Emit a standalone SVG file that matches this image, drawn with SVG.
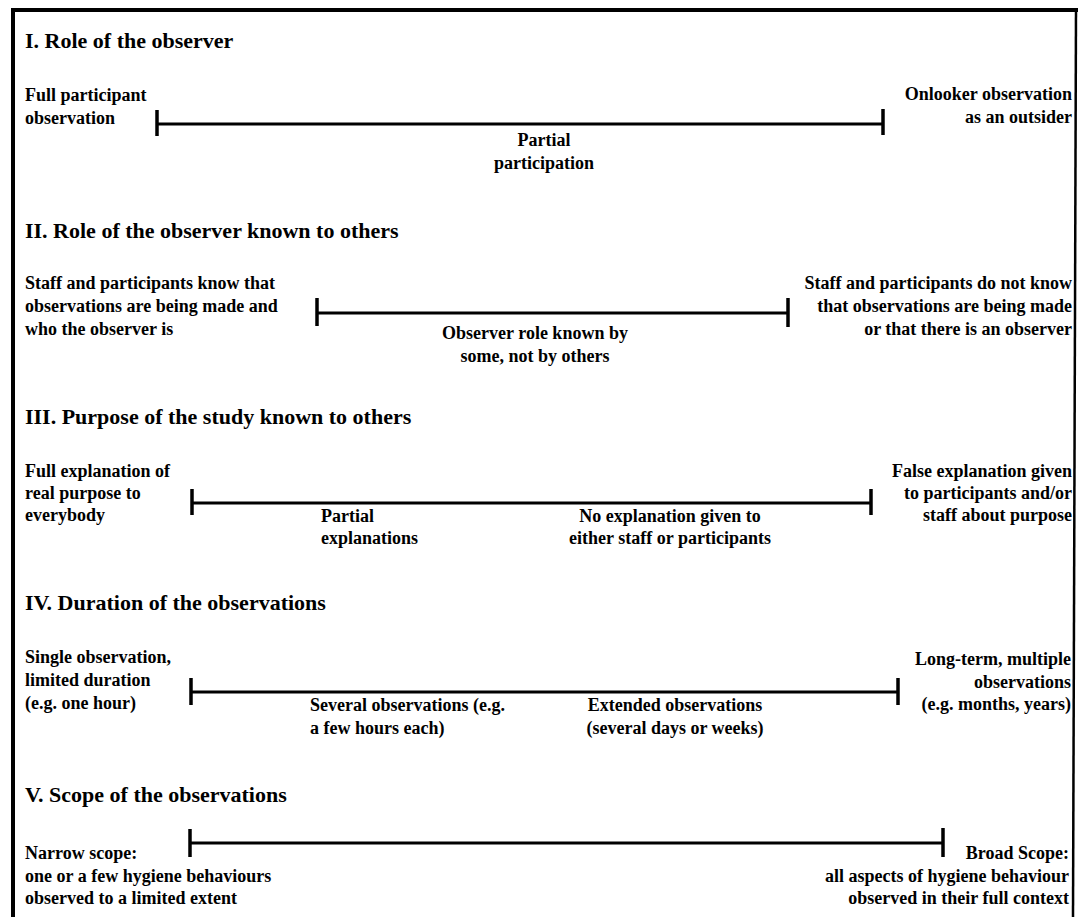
<svg xmlns="http://www.w3.org/2000/svg" width="1078" height="917" viewBox="0 0 1078 917">
  <style>
    text { font-family: "Liberation Serif", "Times New Roman", serif; font-weight: bold; fill: #000; }
    .h { font-size: 22px; }
    .t { font-size: 18px; }
    .r { text-anchor: end; }
    .m { text-anchor: middle; }
    .bar { stroke: #000; stroke-width: 3; fill: none; }
    .tick { stroke: #000; stroke-width: 3.5; fill: none; }
    .frame { stroke: #000; fill: none; }
  </style>

  <rect width="1078" height="917" fill="#fff"/>

  <!-- outer frame -->
  <g id="frame">
    <line class="frame" x1="11" y1="10" x2="1078" y2="10" stroke-width="4"/>
    <line class="frame" x1="13" y1="8" x2="13" y2="917" stroke-width="4"/>
    <line class="frame" x1="1076" y1="8" x2="1073" y2="917" stroke-width="2.5"/>
  </g>

  <!-- scales: bar with end ticks -->
  <g id="connectors">
    <g id="scale-1">
      <line class="bar" x1="157" y1="124" x2="883" y2="124"/>
      <line class="tick" x1="157" y1="110" x2="157" y2="136"/>
      <line class="tick" x1="883" y1="109" x2="883" y2="135"/>
    </g>
    <g id="scale-2">
      <line class="bar" x1="317" y1="313" x2="788" y2="313"/>
      <line class="tick" x1="317" y1="298" x2="317" y2="326"/>
      <line class="tick" x1="788" y1="298" x2="788" y2="327"/>
    </g>
    <g id="scale-3">
      <line class="bar" x1="192" y1="503" x2="871" y2="503"/>
      <line class="tick" x1="192" y1="489" x2="192" y2="515"/>
      <line class="tick" x1="871" y1="489" x2="871" y2="515"/>
    </g>
    <g id="scale-4">
      <line class="bar" x1="191" y1="692" x2="898" y2="692"/>
      <line class="tick" x1="191" y1="678" x2="191" y2="705"/>
      <line class="tick" x1="898" y1="678" x2="898" y2="705"/>
    </g>
    <g id="scale-5">
      <line class="bar" x1="190" y1="843" x2="943" y2="843"/>
      <line class="tick" x1="190" y1="829" x2="190" y2="857"/>
      <line class="tick" x1="943" y1="828" x2="943" y2="857"/>
    </g>
  </g>

  <!-- I. Role of the observer -->
  <g id="section-1">
    <text class="h" x="25" y="48">I. Role of the observer</text>
    <g id="s1-left">
      <text class="t" x="25" y="101">Full participant</text>
      <text class="t" x="25" y="124">observation</text>
    </g>
    <g id="s1-mid">
      <text class="t m" x="544" y="146">Partial</text>
      <text class="t m" x="544" y="169">participation</text>
    </g>
    <g id="s1-right">
      <text class="t r" x="1072" y="100">Onlooker observation</text>
      <text class="t r" x="1072" y="123">as an outsider</text>
    </g>
  </g>

  <!-- II. Role of the observer known to others -->
  <g id="section-2">
    <text class="h" x="25" y="238">II. Role of the observer known to others</text>
    <g id="s2-left">
      <text class="t" x="25" y="289">Staff and participants know that</text>
      <text class="t" x="25" y="312">observations are being made and</text>
      <text class="t" x="25" y="335">who the observer is</text>
    </g>
    <g id="s2-mid">
      <text class="t m" x="535" y="339">Observer role known by</text>
      <text class="t m" x="535" y="362">some, not by others</text>
    </g>
    <g id="s2-right">
      <text class="t r" x="1072" y="289">Staff and participants do not know</text>
      <text class="t r" x="1072" y="312">that observations are being made</text>
      <text class="t r" x="1072" y="335">or that there is an observer</text>
    </g>
  </g>

  <!-- III. Purpose of the study known to others -->
  <g id="section-3">
    <text class="h" x="25" y="424">III. Purpose of the study known to others</text>
    <g id="s3-left">
      <text class="t" x="25" y="477">Full explanation of</text>
      <text class="t" x="25" y="499">real purpose to</text>
      <text class="t" x="25" y="521">everybody</text>
    </g>
    <g id="s3-mid-a">
      <text class="t" x="321" y="522">Partial</text>
      <text class="t" x="321" y="544">explanations</text>
    </g>
    <g id="s3-mid-b">
      <text class="t m" x="670" y="522">No explanation given to</text>
      <text class="t m" x="670" y="544">either staff or participants</text>
    </g>
    <g id="s3-right">
      <text class="t r" x="1072" y="477">False explanation given</text>
      <text class="t r" x="1072" y="499">to participants and/or</text>
      <text class="t r" x="1072" y="521">staff about purpose</text>
    </g>
  </g>

  <!-- IV. Duration of the observations -->
  <g id="section-4">
    <text class="h" x="25" y="610">IV. Duration of the observations</text>
    <g id="s4-left">
      <text class="t" x="25" y="663">Single observation,</text>
      <text class="t" x="25" y="686">limited duration</text>
      <text class="t" x="25" y="709">(e.g. one hour)</text>
    </g>
    <g id="s4-mid-a">
      <text class="t" x="310" y="711">Several observations (e.g.</text>
      <text class="t" x="310" y="734">a few hours each)</text>
    </g>
    <g id="s4-mid-b">
      <text class="t m" x="675" y="711">Extended observations</text>
      <text class="t m" x="675" y="734">(several days or weeks)</text>
    </g>
    <g id="s4-right">
      <text class="t r" x="1071" y="665">Long-term, multiple</text>
      <text class="t r" x="1071" y="688">observations</text>
      <text class="t r" x="1071" y="710">(e.g. months, years)</text>
    </g>
  </g>

  <!-- V. Scope of the observations -->
  <g id="section-5">
    <text class="h" x="25" y="802">V. Scope of the observations</text>
    <g id="s5-left">
      <text class="t" x="25" y="859">Narrow scope:</text>
      <text class="t" x="25" y="882">one or a few hygiene behaviours</text>
      <text class="t" x="25" y="904">observed to a limited extent</text>
    </g>
    <g id="s5-right">
      <text class="t r" x="1069" y="859">Broad Scope:</text>
      <text class="t r" x="1069" y="882">all aspects of hygiene behaviour</text>
      <text class="t r" x="1069" y="904">observed in their full context</text>
    </g>
  </g>
</svg>
